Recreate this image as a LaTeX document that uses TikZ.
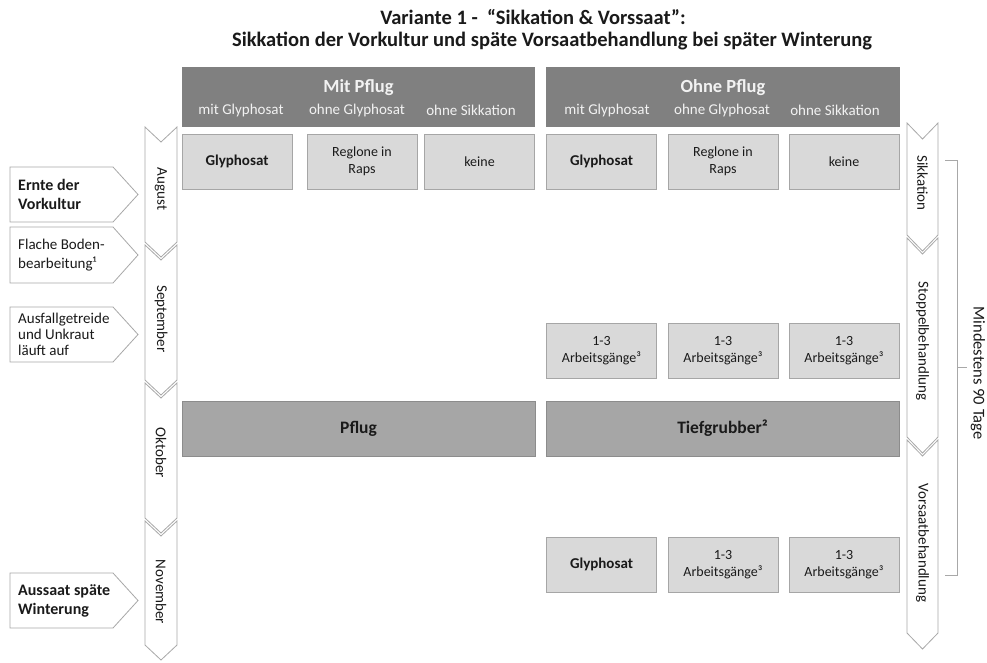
\documentclass[tikz,border=0pt]{standalone}
\usepackage{fontspec}
\setmainfont{Carlito}
\definecolor{hdrgray}{HTML}{808080}
\definecolor{hdrtext}{HTML}{F2F2F2}
\definecolor{boxfill}{HTML}{D9D9D9}
\definecolor{boxline}{HTML}{A6A6A6}
\definecolor{barfill}{HTML}{A6A6A6}
\definecolor{barline}{HTML}{8C8C8C}
\definecolor{chevline}{HTML}{A8A8A8}
\definecolor{txt}{HTML}{1A1A1A}
\newcommand\VChev[5]{% x1 x2 ytop ybot depth
  \pgfmathsetmacro\xmid{(#1+#2)/2}
  \draw[chev] (#1,#3) -- (\xmid,#3+#5) -- (#2,#3) -- (#2,#4) -- (\xmid,#4+#5) -- (#1,#4) -- cycle;}
\newcommand\HCallout[2]{% ytop ybot
  \draw[chev] (10,#1) -- (113,#1) -- (138,{(#1+#2)/2}) -- (113,#2) -- (10,#2) -- cycle;}
\begin{document}
\begin{tikzpicture}[x=1pt,y=-1pt,
  chev/.style={draw=chevline, fill=white, line width=0.8pt, line join=miter},
  hdr/.style={fill=hdrgray, draw=none, minimum height=60pt, inner sep=0},
  hdrbig/.style={text=hdrtext, font=\fontsize{18.5}{20}\selectfont\bfseries, inner sep=0},
  hdrsmall/.style={text=hdrtext, font=\fontsize{15}{16}\selectfont, inner sep=0},
  sbox/.style={draw=boxline, fill=boxfill, line width=0.7pt, minimum width=110pt, minimum height=55pt, align=center, text=txt, font=\fontsize{14}{17}\selectfont, inner sep=0},
  boldbox/.style={sbox, font=\fontsize{15}{17}\selectfont\bfseries},
  bar/.style={draw=barline, fill=barfill, line width=0.7pt, minimum width=353pt, minimum height=55pt, text=txt, font=\fontsize{17.5}{19}\selectfont\bfseries, inner sep=0},
  month/.style={rotate=-90, text=txt, font=\fontsize{15}{16}\selectfont, inner sep=0},
  ctext/.style={anchor=west, align=left, text=txt, inner sep=0},
  ttl/.style={text=txt, font=\fontsize{20.5}{22}\selectfont\bfseries, inner sep=0}]
\useasboundingbox (0,0) rectangle (987,662);
\fill[white] (0,0) rectangle (987,662);

% Title
\node[ttl] (t1) at (533,17) {Variante 1 -\ \ “Sikkation \& Vorssaat”:};
\node[ttl] (t2) at (552,41) {Sikkation der Vorkultur und späte Vorsaatbehandlung bei später Winterung};

% Headers
\node[hdr, minimum width=353pt] (hmit) at (358.5,97) {};
\node[hdr, minimum width=354pt] (hohne) at (723,97) {};
\node[hdrbig] (hmitT) at (358.5,88) {Mit Pflug};
\node[hdrbig] (hohneT) at (723,88) {Ohne Pflug};
\node[hdrsmall] (m1) at (241,110) {mit Glyphosat};
\node[hdrsmall] (m2) at (357,110) {ohne Glyphosat};
\node[hdrsmall] (m3) at (471,110) {ohne Sikkation};
\node[hdrsmall] (o1) at (607,110) {mit Glyphosat};
\node[hdrsmall] (o2) at (722,110) {ohne Glyphosat};
\node[hdrsmall] (o3) at (835,110) {ohne Sikkation};

% Row 1
\node[boldbox] (a1) at (237,161.5) {Glyphosat};
\node[sbox] (a2) at (362,161.5) {Reglone in\\Raps};
\node[sbox] (a3) at (479.5,161.5) {keine};
\node[boldbox] (b1) at (601.5,161.5) {Glyphosat};
\node[sbox] (b2) at (723,161.5) {Reglone in\\Raps};
\node[sbox] (b3) at (844,161.5) {keine};

% Row 2
\node[sbox] (c1) at (601.5,350.5) {1-3\\Arbeitsgänge³};
\node[sbox] (c2) at (723,350.5) {1-3\\Arbeitsgänge³};
\node[sbox] (c3) at (844,350.5) {1-3\\Arbeitsgänge³};

% Bars
\node[bar] (pflug) at (358.5,428.5) {Pflug};
\node[bar] (tief) at (722.5,428.5) {Tiefgrubber²};

% Row 3
\node[boldbox] (d1) at (601.5,564.5) {Glyphosat};
\node[sbox] (d2) at (723,564.5) {1-3\\Arbeitsgänge³};
\node[sbox] (d3) at (844,564.5) {1-3\\Arbeitsgänge³};

% Month chevrons (left)
\VChev{145}{177}{127}{242}{15}
\VChev{145}{177}{245}{380}{15}
\VChev{145}{177}{383}{518}{15}
\VChev{145}{177}{521}{645}{15}
\node[month] (aug) at (161,189) {August};
\node[month] (sep) at (161,319) {September};
\node[month] (okt) at (161,453) {Oktober};
\node[month] (nov) at (161,592) {November};

% Phase chevrons (right)
\VChev{907}{938}{123}{235}{16}
\VChev{907}{938}{238}{437}{16}
\VChev{907}{938}{440}{633}{16}
\node[month] (sik) at (922.5,183) {Sikkation};
\node[month] (sto) at (922.5,341) {Stoppelbehandlung};
\node[month] (vor) at (922.5,543) {Vorsaatbehandlung};

% Bracket
\coordinate (br1) at (945,160);
\coordinate (br2) at (957,160);
\coordinate (br3) at (957,575);
\coordinate (br4) at (945,575);
\coordinate (brm) at (957,367);
\coordinate (brt) at (967,367);
\draw[chevline, line width=0.8pt] (br1) -- (br2) -- (br3) -- (br4);
\draw[chevline, line width=0.8pt] (brm) -- (brt);
\node[month, font=\fontsize{16.5}{18}\selectfont] (mind) at (978,373) {Mindestens 90 Tage};

% Left callouts
\HCallout{167}{222}
\HCallout{227}{283}
\HCallout{307}{362}
\HCallout{573}{628}
\node[ctext, font=\fontsize{16}{19}\selectfont\bfseries] (ernte) at (18,194.5) {Ernte der\\Vorkultur};
\node[ctext, font=\fontsize{15}{19}\selectfont] (flach) at (18,255) {Flache Boden-\\bearbeitung¹};
\node[ctext, font=\fontsize{15}{16}\selectfont] (ausf) at (18,334.5) {Ausfallgetreide\\und\ Unkraut\\läuft auf};
\node[ctext, font=\fontsize{16}{19}\selectfont\bfseries] (auss) at (18,600.5) {Aussaat späte\\Winterung};
\end{tikzpicture}
\end{document}
